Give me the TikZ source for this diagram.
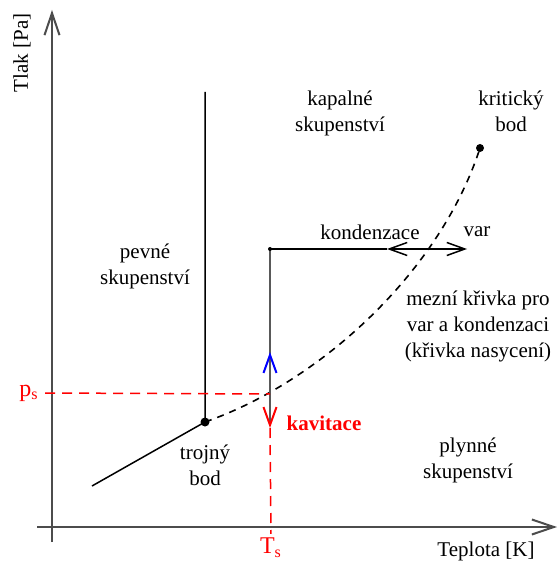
\documentclass[tikz,border=0pt]{standalone}
\usepackage{fontspec}
\setmainfont{Liberation Serif}
\usetikzlibrary{arrows.meta, positioning, calc}
\tikzset{
  axis/.style={draw=black!70, line width=1pt, -{Straight Barb[length=11pt,width=7.5pt]}},
  phase/.style={line width=0.75pt},
  satcurve/.style={line width=0.8pt, dash pattern=on 3.5pt off 3pt},
  helper/.style={red, line width=0.75pt, dash pattern=on 5pt off 3.5pt},
  process/.style={draw=black!65, line width=1pt},
  lbl/.style={align=center, font=\fontsize{10.5}{13}\selectfont, inner sep=0pt},
}

\begin{document}
\begin{tikzpicture}[x=0.5pt, y=-0.5pt, >={Straight Barb[length=9pt,width=6.5pt]}]
    \useasboundingbox (0,0) rectangle (560,566);

    % axes
    \coordinate (yfoot) at (52,542);
    \coordinate (ytip) at (52,10);
    \coordinate (xfoot) at (37,527);
    \coordinate (xtip) at (557,527);
    \draw[axis] (yfoot) -- (ytip);
    \draw[axis] (xfoot) -- (xtip);
    \node[lbl, rotate=90] (ylab) at (22,53) {Tlak [Pa]};
    \node[lbl] (xlab) at (486,551) {Teplota [K]};

    % phase boundaries
    \coordinate (tp) at (205,422);
    \coordinate (cp) at (480,148);
    \coordinate (melt) at (205,92);
    \coordinate (subl) at (92,486);
    \draw[phase] (subl) -- (tp) -- (melt);
    \draw[satcurve] (tp) .. controls (320,382) and (440,272) .. (cp);
    \fill (tp) circle (4.5);
    \fill (cp) circle (4);

    % process: heating at constant pressure, then pressure drop
    \coordinate (corner) at (270,249);
    \coordinate (lft) at (387,249);
    \coordinate (rgt) at (467,249);
    \coordinate (sat) at (270,394);
    \coordinate (up) at (270,352);
    \coordinate (down) at (270,428);
    \draw[phase] (corner) -- (lft);
    \draw[phase, <->] (lft) -- (rgt);
    \draw[process] (corner) -- (sat);
    \draw[process, -{Straight Barb[blue,length=9pt,width=6.5pt]}] (sat) -- (up);
    \draw[process, -{Straight Barb[red,length=9pt,width=6.5pt]}] (sat) -- (down);
    \fill (corner) circle (2);

    % saturation values
    \node[lbl, red, font=\fontsize{12}{14}\selectfont] (ps) at (29,393) {p\textsubscript{s}};
    \node[lbl, red, font=\fontsize{12}{14}\selectfont] (Ts) at (271,548) {T\textsubscript{s}};
    \draw[helper] ([xshift=3pt]ps.east) -- (sat);
    \draw[helper, shorten >=2pt] (down) -- (Ts.north);

    % labels
    \node[lbl] (kapalne) at (340,113) {kapalné\\skupenství};
    \node[lbl] (kriticky) at (511,111) {kritický\\bod};
    \node[lbl] (pevne) at (145,266) {pevné\\skupenství};
    \node[lbl] (kondenzace) at (370,232) {kondenzace};
    \node[lbl] (var) at (477,232) {var};
    \node[lbl] (mezni) at (478,326) {mezní křivka pro\\var a kondenzaci\\(křivka nasycení)};
    \node[lbl] (plynne) at (468,460) {plynné\\skupenství};
    \node[lbl] (trojny) at (205,465) {trojný\\bod};
    \node[lbl, red, font=\fontsize{10.5}{13}\selectfont\bfseries] (kavitace) at (324,423) {kavitace};
\end{tikzpicture}
\end{document}
